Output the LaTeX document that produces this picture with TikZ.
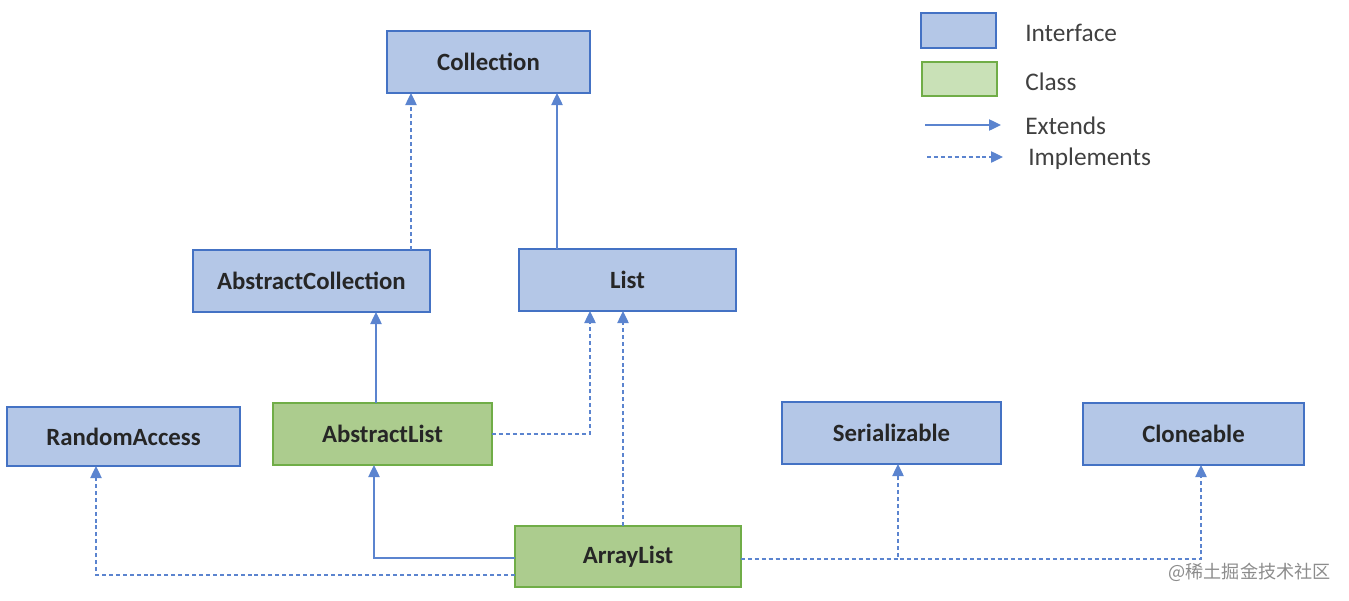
\documentclass[tikz,border=0pt]{standalone}
\usepackage{fontspec}
\setmainfont{Carlito}
\newfontfamily\cjkfont{Noto Sans CJK SC}
\usetikzlibrary{arrows.meta}
\definecolor{ifill}{HTML}{B4C7E7}
\definecolor{iline}{HTML}{4472C4}
\definecolor{cfill}{HTML}{ACCC8E}
\definecolor{cline}{HTML}{70AD47}
\definecolor{lfill}{HTML}{C9E1B7}
\definecolor{conn}{HTML}{5B84CF}
\definecolor{txt}{HTML}{262626}
\begin{document}
\begin{tikzpicture}[x=0.75pt,y=-0.75pt,
  sz/.style 2 args={minimum width=#1*0.75pt,minimum height=#2*0.75pt},
  iface/.style={draw=iline,fill=ifill,line width=1.6pt,inner sep=0pt,outer sep=0pt,text=txt,font=\fontsize{18.6}{22}\selectfont\bfseries},
  klass/.style={draw=cline,fill=cfill,line width=1.6pt,inner sep=0pt,outer sep=0pt,text=txt,font=\fontsize{18.6}{22}\selectfont\bfseries},
  legtxt/.style={anchor=west,inner sep=0pt,text=black!75,font=\fontsize{19}{22}\selectfont},
  ext/.style={draw=conn,line width=1pt,-{Triangle[width=8.5pt,length=9pt]}},
  impl/.style={draw=conn,line width=1pt,dash pattern=on 3pt off 2.2pt,-{Triangle[width=8.5pt,length=9pt]}}
]
\useasboundingbox (0,0) rectangle (1349,600);
% nodes
\node[iface,sz={203}{62}] (coll) at (488.5,62) {Collection};
\node[iface,sz={237}{62}] (acoll) at (311.5,281) {AbstractCollection};
\node[iface,sz={217}{62}] (list) at (627.5,280) {List};
\node[iface,sz={233}{59}] (ra) at (123.5,436.5) {RandomAccess};
\node[klass,sz={219}{62}] (alist) at (382.5,434) {AbstractList};
\node[iface,sz={219}{62}] (ser) at (891.5,433) {Serializable};
\node[iface,sz={221}{62}] (clo) at (1193.5,434) {Cloneable};
\node[klass,sz={226}{61}] (arr) at (628,556.5) {ArrayList};
% helper coordinates
\coordinate (xa) at (411,0);
\coordinate (xb) at (557,0);
\coordinate (xc) at (376,0);
\coordinate (xd) at (590,0);
\coordinate (xe) at (623,0);
\coordinate (xf) at (374,0);
\coordinate (xg) at (96,0);
\coordinate (xh) at (898,0);
\coordinate (xi) at (1201,0);
\coordinate (y1) at (0,558);
\coordinate (y2) at (0,575);
\coordinate (y3) at (0,559);
% connectors
\draw[impl] (acoll.north -| xa) -- (coll.south -| xa);
\draw[ext] (list.north -| xb) -- (coll.south -| xb);
\draw[ext] (alist.north -| xc) -- (acoll.south -| xc);
\draw[impl] (alist.east) -| (list.south -| xd);
\draw[impl] (arr.north -| xe) -- (list.south -| xe);
\draw[ext] (arr.west |- y1) -| (alist.south -| xf);
\draw[impl] (arr.west |- y2) -| (ra.south -| xg);
\draw[impl] (arr.east |- y3) -| (ser.south -| xh);
\draw[impl] (arr.east |- y3) -| (clo.south -| xi);
% legend
\node[iface,sz={75}{35}] (lgi) at (958.5,30.5) {};
\node[klass,fill=lfill,sz={75}{34}] (lgc) at (959.5,79) {};
\node[legtxt] (lti) at (1025,33) {Interface};
\node[legtxt] (ltc) at (1025,82) {Class};
\node[legtxt] (lte) at (1025,126) {Extends};
\node[legtxt] (ltm) at (1028,159) {Implements};
\coordinate (le1) at (925,125);
\coordinate (le2) at (1001,125);
\coordinate (lm1) at (927,157);
\coordinate (lm2) at (1003,157);
\draw[ext] (le1) -- (le2);
\draw[impl] (lm1) -- (lm2);
% watermark
\node[anchor=east,inner sep=0pt,text=black!45,font=\cjkfont\fontsize{13.6}{15}\selectfont] (wm) at (1331,572) {@稀土掘金技术社区};
\end{tikzpicture}
\end{document}
